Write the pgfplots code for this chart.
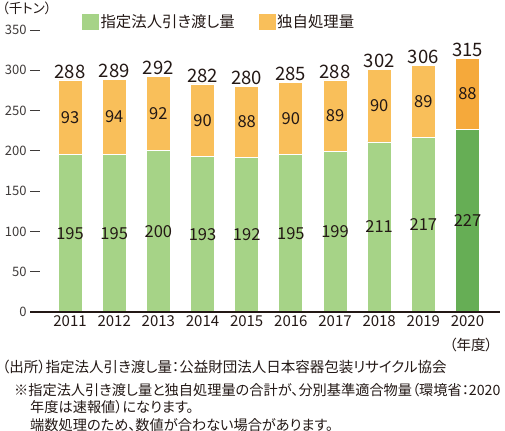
\documentclass[border=0pt]{standalone}
\usepackage{fontspec}
\setmainfont{Noto Sans CJK JP}[RawFeature=+palt]
\usepackage{pgfplots}
\usepackage{pgfplotstable}
\pgfplotsset{compat=1.18}

\definecolor{lgreen}{HTML}{A6D387}
\definecolor{dgreen}{HTML}{66AE55}
\definecolor{lorange}{HTML}{F9BF5A}
\definecolor{dorange}{HTML}{F5A93B}
\definecolor{ink}{HTML}{231815}
\definecolor{tickgray}{HTML}{3E3A39}

\newcommand\fsz[1]{\fontsize{#1bp}{#1bp}\selectfont}

% x = position, year, specified-corporation amount, own processing, total
\pgfplotstableread{
x year green orange total
0 2011 195 93 288
1 2012 195 94 289
2 2013 200 92 292
3 2014 193 90 282
4 2015 192 88 280
5 2016 195 90 285
6 2017 199 89 288
7 2018 211 90 302
8 2019 217 89 306
9 2020 227 88 315
}\shipdata

\begin{document}
\begin{tikzpicture}
\path[use as bounding box] (0,0) rectangle (505bp,-431bp);
\begin{axis}[
  at={(30bp,-312bp)}, anchor=south west,
  scale only axis, width=470bp, height=282bp,
  xmin=-0.906, xmax=9.736, ymin=0, ymax=350,
  axis x line*=bottom, axis y line*=left,
  x axis line style={-, draw=ink, line width=1.5bp},
  y axis line style={draw=none},
  axis on top, clip=false,
  xtick={0,...,9},
  xticklabels from table={\shipdata}{year},
  x tick style={draw=none},
  ytick={0,50,...,350},
  y tick style={draw=tickgray, line width=1bp},
  tick align=inside, major tick length=10bp,
  x tick label style={font=\fsz{15}, text=ink},
  y tick label style={font=\fsz{13}, text=tickgray},
  /pgf/number format/assume math mode=true,
  legend style={at={(axis description cs:0.1106,1.064)}, anchor=north west,
    draw=none, fill=none, inner sep=0pt, font=\fsz{15.4}, text=ink,
    /tikz/every even column/.append style={column sep=22bp}},
  legend columns=2, legend cell align=left,
]
\addlegendimage{legend image code/.code={\fill[lgreen] (0bp,-7.5bp) rectangle (16bp,7.5bp);}}
\addlegendentry{指定法人引き渡し量}
\addlegendimage{legend image code/.code={\fill[lorange] (0bp,-7.5bp) rectangle (16bp,7.5bp);}}
\addlegendentry{独自処理量}

% own processing on top (drawn as full stack, green covers the lower part)
\addplot[ybar, bar width=24bp, bar shift=0pt, fill=lorange, draw=white, line width=0.8bp, forget plot,
  restrict x to domain=0:8]
  table[x=x, y expr=\thisrow{green}+\thisrow{orange}] {\shipdata};
\addplot[ybar, bar width=24bp, bar shift=0pt, fill=dorange, draw=white, line width=0.8bp, forget plot,
  restrict x to domain=9:9]
  table[x=x, y expr=\thisrow{green}+\thisrow{orange}] {\shipdata};
\addplot[ybar, bar width=24bp, bar shift=0pt, fill=lgreen, draw=white, line width=0.8bp, forget plot,
  restrict x to domain=0:8]
  table[x=x, y=green] {\shipdata};
\addplot[ybar, bar width=24bp, bar shift=0pt, fill=dgreen, draw=white, line width=0.8bp, forget plot,
  restrict x to domain=9:9]
  table[x=x, y=green] {\shipdata};

% value labels
\addplot[draw=none, mark=none, forget plot, nodes near coords, point meta=explicit,
  every node near coord/.style={anchor=center, font=\fsz{16.5}, text=ink}]
  table[x=x, y expr=\thisrow{green}/2, meta=green] {\shipdata};
\addplot[draw=none, mark=none, forget plot, nodes near coords, point meta=explicit,
  every node near coord/.style={anchor=center, font=\fsz{16.5}, text=ink}]
  table[x=x, y expr=\thisrow{green}+\thisrow{orange}/2, meta=orange] {\shipdata};
\addplot[draw=none, mark=none, forget plot, nodes near coords, point meta=explicit,
  every node near coord/.style={anchor=south, font=\fsz{18.5}, text=ink, inner sep=1.5bp}]
  table[x=x, y expr=\thisrow{green}+\thisrow{orange}, meta=total] {\shipdata};
\end{axis}

\node[anchor=west, inner sep=0pt, font=\fsz{13.5}, text=ink] at (2bp,-8bp) {（千トン）};
\node[anchor=center, inner sep=0pt, font=\fsz{14.5}, text=ink] at (471bp,-345bp) {（年度）};
\node[anchor=west, inner sep=0pt, font=\fsz{14.5}, text=ink] at (2bp,-367bp)
  {（出所）指定法人引き渡し量：公益財団法人日本容器包装リサイクル協会};
\node[anchor=west, inner sep=0pt, font=\fsz{14.2}, text=ink] at (14bp,-390bp)
  {※指定法人引き渡し量と独自処理量の合計が、分別基準適合物量（環境省：2020};
\node[anchor=west, inner sep=0pt, font=\fsz{14.2}, text=ink] at (30bp,-407.5bp)
  {年度は速報値）になります。};
\node[anchor=west, inner sep=0pt, font=\fsz{14.2}, text=ink] at (30bp,-425bp)
  {端数処理のため、数値が合わない場合があります。};
\end{tikzpicture}
\end{document}
